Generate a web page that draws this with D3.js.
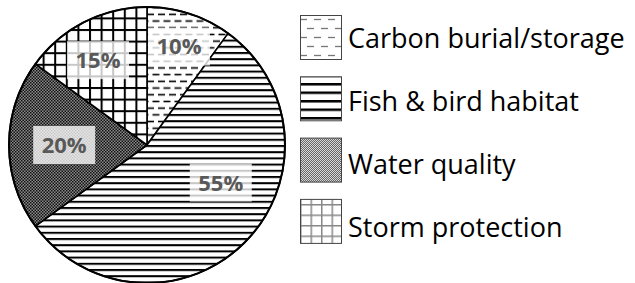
<!DOCTYPE html>
<html>
<head>
<meta charset="utf-8">
<script src="https://cdn.jsdelivr.net/npm/d3@7"></script>
<style>
  body { margin: 0; background: #fff; }
  svg { display: block; }
</style>
</head>
<body>
<svg id="chart"></svg>
<script>
const categories = ["Carbon burial/storage", "Fish & bird habitat", "Water quality", "Storm protection"];
const values = [10, 55, 20, 15];
const patternIds = ["carbon", "fish", "water", "storm"];

// label placement (fraction of radius, angle nudge in degrees) — layout only
const labelRadius = [0.75, 0.6, 0.6, 0.71];
const labelShift = [0, -18, 0, -3];

const width = 635, height = 283;
const cx = 147, cy = 145, radius = 138;

const svg = d3.select("#chart").attr("width", width).attr("height", height);
const defs = svg.append("defs");

// ---- patterns ----
function dashPattern(id, w, h, color, sw, dash) {
  const p = defs.append("pattern").attr("id", id).attr("patternUnits", "userSpaceOnUse")
    .attr("width", w).attr("height", h);
  p.append("rect").attr("width", w).attr("height", h).attr("fill", "#fff");
  p.append("line").attr("x1", 0).attr("x2", dash).attr("y1", h / 4).attr("y2", h / 4)
    .attr("stroke", color).attr("stroke-width", sw);
  p.append("line").attr("x1", w / 2).attr("x2", w / 2 + dash).attr("y1", h * 3 / 4).attr("y2", h * 3 / 4)
    .attr("stroke", color).attr("stroke-width", sw);
  p.append("line").attr("x1", w / 2 - w).attr("x2", w / 2 - w + dash).attr("y1", h * 3 / 4).attr("y2", h * 3 / 4)
    .attr("stroke", color).attr("stroke-width", sw);
}
function linePattern(id, h, color, sw) {
  const p = defs.append("pattern").attr("id", id).attr("patternUnits", "userSpaceOnUse")
    .attr("width", 10).attr("height", h);
  p.append("rect").attr("width", 10).attr("height", h).attr("fill", "#fff");
  p.append("rect").attr("y", 0).attr("width", 10).attr("height", sw).attr("fill", color);
}
function gridPattern(id, s, color, sw) {
  const p = defs.append("pattern").attr("id", id).attr("patternUnits", "userSpaceOnUse")
    .attr("width", s).attr("height", s);
  p.append("rect").attr("width", s).attr("height", s).attr("fill", "#fff");
  p.append("rect").attr("width", s).attr("height", sw).attr("fill", color);
  p.append("rect").attr("width", sw).attr("height", s).attr("fill", color);
}
function dotPattern(id, bg, fg, s) {
  const p = defs.append("pattern").attr("id", id).attr("patternUnits", "userSpaceOnUse")
    .attr("width", s * 2).attr("height", s * 2);
  p.append("rect").attr("width", s * 2).attr("height", s * 2).attr("fill", bg);
  p.append("rect").attr("width", s).attr("height", s).attr("fill", fg);
  p.append("rect").attr("x", s).attr("y", s).attr("width", s).attr("height", s).attr("fill", fg);
}

dashPattern("carbon", 11, 13.4, "#000", 1.6, 7);
linePattern("fish", 6.2, "#000", 2);
dotPattern("water", "#8a8a8a", "#111", 1.5);
gridPattern("storm", 11.6, "#000", 2);

// legend versions (lighter, larger)
dashPattern("carbon-l", 14, 18, "#777", 1.3, 7);
linePattern("fish-l", 8.5, "#000", 2.5);
dotPattern("water-l", "#d8d8d8", "#666", 1);
gridPattern("storm-l", 10.5, "#888", 1.5);

// ---- pie ----
const pie = d3.pie().sort(null).value(d => d);
const arcs = pie(values);
const arc = d3.arc().innerRadius(0).outerRadius(radius);

const g = svg.append("g").attr("transform", `translate(${cx},${cy})`);

g.selectAll("path.slice")
  .data(arcs)
  .join("path")
  .attr("class", "slice")
  .attr("d", arc)
  .attr("fill", (d, i) => `url(#${patternIds[i]})`)
  .attr("stroke", "#000")
  .attr("stroke-width", 1.6)
  .attr("stroke-linejoin", "round");

g.append("circle").attr("r", radius).attr("fill", "none").attr("stroke", "#000").attr("stroke-width", 2);

// ---- labels ----
const labels = g.selectAll("g.label")
  .data(arcs)
  .join("g")
  .attr("class", "label")
  .attr("transform", (d, i) => {
    const a = (d.startAngle + d.endAngle) / 2 + labelShift[i] * Math.PI / 180;
    const r = radius * labelRadius[i];
    return `translate(${r * Math.sin(a)},${-r * Math.cos(a)})`;
  });

labels.append("rect")
  .attr("x", -31).attr("y", -19).attr("width", 62).attr("height", 38)
  .attr("fill", "#fff").attr("fill-opacity", 0.78);

labels.append("text")
  .attr("text-anchor", "middle")
  .attr("dy", "0.36em")
  .attr("font-family", "'Open Sans', sans-serif")
  .attr("font-weight", "bold")
  .attr("font-size", 22)
  .attr("fill", "#595959")
  .text(d => d.data + "%");

// ---- legend ----
const legend = svg.append("g").attr("transform", "translate(300,15)");
const item = legend.selectAll("g")
  .data(categories)
  .join("g");

item.append("rect")
  .attr("x", 0.5).attr("width", 41).attr("height", 44)
  .attr("y", (d, i) => 0.5 + i * 61.3)
  .attr("fill", (d, i) => `url(#${patternIds[i]}-l)`)
  .attr("stroke", "#444").attr("stroke-width", 1);

item.append("text")
  .attr("x", 48)
  .attr("y", (d, i) => 32.5 + i * 63.2)
  .attr("font-family", "'Open Sans', sans-serif")
  .attr("font-size", 27)
  .attr("fill", "#000")
  .text(d => d);
</script>
</body>
</html>
